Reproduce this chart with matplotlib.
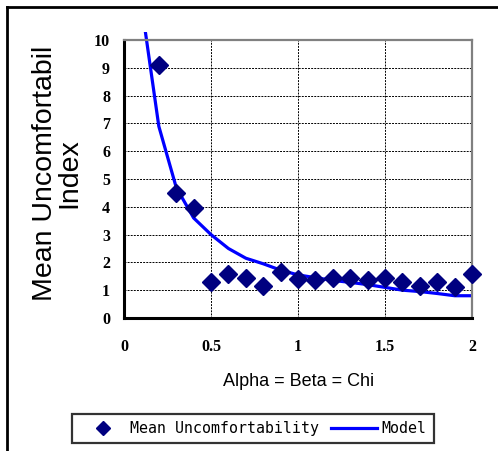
import numpy as np
import matplotlib.pyplot as plt
from matplotlib.patches import Rectangle
from matplotlib.lines import Line2D

# datos
x_obs = [0.2, 0.3, 0.4, 0.5, 0.6, 0.7, 0.8, 0.9, 1.0, 1.1, 1.2, 1.3, 1.4, 1.5, 1.6, 1.7, 1.8, 1.9, 2.0]
y_obs = [9.1, 4.5, 3.95, 1.3, 1.6, 1.45, 1.15, 1.65, 1.4, 1.35, 1.45, 1.45, 1.38, 1.45, 1.3, 1.15, 1.3, 1.1, 1.6]

x_model = [0.1, 0.2, 0.3, 0.4, 0.5, 0.6, 0.7, 0.8, 0.9, 1.0, 1.1, 1.2, 1.3, 1.4, 1.5, 1.6, 1.7, 1.8, 1.9, 2.0]
y_model = [11.3, 6.9, 4.7, 3.6, 3.0, 2.5, 2.15, 1.95, 1.72, 1.55, 1.45, 1.35, 1.28, 1.2, 1.1, 1.0, 0.95, 0.88, 0.8, 0.8]

x_ticks = [0, 0.5, 1, 1.5, 2]
x_ticklabels = ['0', '0.5', '1', '1.5', '2']
y_ticks = list(range(0, 11))

fig = plt.figure(figsize=(4.98, 4.51), dpi=100)
# marco exterior: solo arriba y a la izquierda
fig.lines.append(Line2D([0.015, 1.0], [0.985, 0.985], transform=fig.transFigure, color='black', linewidth=2))
fig.lines.append(Line2D([0.015, 0.015], [0.0, 0.985], transform=fig.transFigure, color='black', linewidth=2))

ax = fig.add_axes([0.249, 0.295, 0.699, 0.616])

linea, = ax.plot(x_model, y_model, color='#0000FF', linewidth=2.3, label='Model', zorder=2)
# deja que la linea salga un poco por arriba
linea.set_clip_path(Rectangle((0, 0), 1, 1.03, transform=ax.transAxes))
puntos, = ax.plot(x_obs, y_obs, linestyle='none', marker='D', markersize=9.5,
                  color='#000080', label='Mean Uncomfortability', zorder=3, clip_on=False)

ax.set_xlim(0, 2)
ax.set_ylim(0, 10)
ax.set_xticks(x_ticks)
ax.set_xticklabels(x_ticklabels)
ax.set_yticks(y_ticks)
ax.grid(True, color='black', linestyle=(0, (2, 1.2)), linewidth=0.7)
ax.set_axisbelow(True)

for lado in ['left', 'bottom']:
    ax.spines[lado].set_linewidth(2.2)
    ax.spines[lado].set_color('black')
for lado in ['top', 'right']:
    ax.spines[lado].set_linewidth(1.6)
    ax.spines[lado].set_color('#808080')

ax.tick_params(axis='both', length=0)
ax.tick_params(axis='y', pad=10)
ax.tick_params(axis='x', pad=15)
for t in ax.get_xticklabels() + ax.get_yticklabels():
    t.set_fontfamily('Liberation Serif')
    t.set_fontweight('bold')
    t.set_fontsize(11.5)

ax.set_xlabel('Alpha = Beta = Chi', fontfamily='Liberation Sans', fontsize=13)
ax.xaxis.set_label_coords(0.501, -0.227)
ax.xaxis.label.set_verticalalignment('center')
ax.set_ylabel('Mean Uncomfortabil\nIndex', fontfamily='Liberation Sans', fontsize=20.5,
              linespacing=0.92)
ax.yaxis.set_label_coords(-0.192, 0.52)
ax.yaxis.label.set_verticalalignment('center')

leg = fig.legend(handles=[puntos, linea], loc='center', bbox_to_anchor=(0.508, 0.05),
                 ncol=2, frameon=True, fancybox=False, handlelength=3.1,
                 columnspacing=0.8, handletextpad=0.3, borderpad=0.5,
                 prop={'family': 'DejaVu Sans Mono', 'size': 10.7})
leg.get_frame().set_edgecolor('black')
leg.get_frame().set_linewidth(1.6)
leg.legend_handles[0].set_markersize(7.5)

fig.savefig('out.png', dpi=100)
